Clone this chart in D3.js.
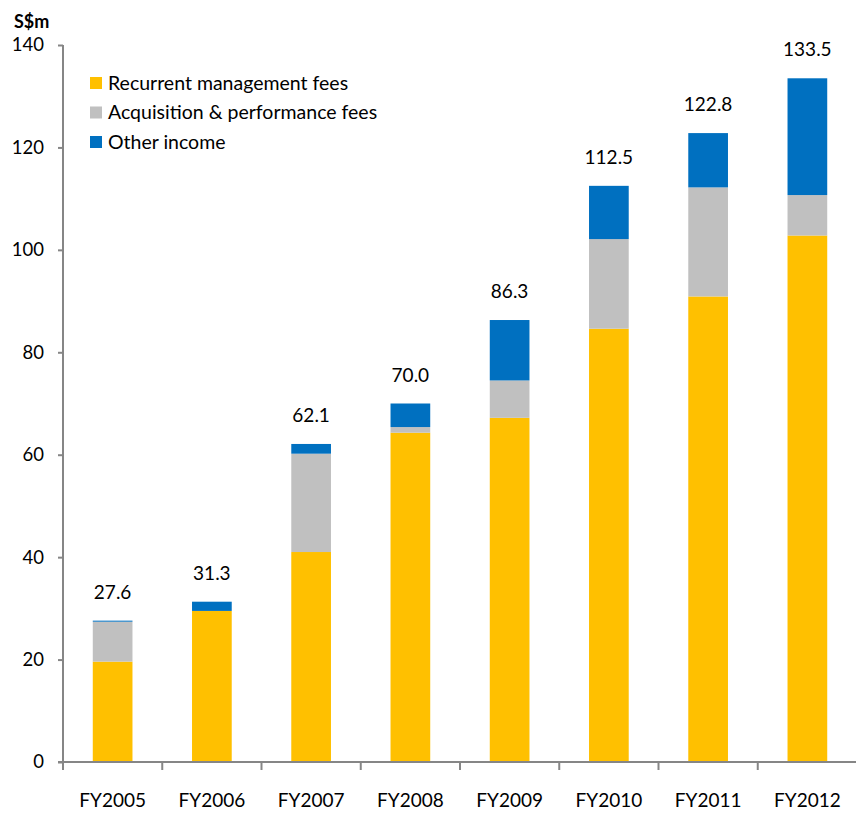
<!DOCTYPE html>
<html>
<head>
<meta charset="utf-8">
<script src="https://cdn.jsdelivr.net/npm/d3@7"></script>
<style>
  body { margin: 0; background: #fff; }
  text { font-family: Lato, "Open Sans", sans-serif; fill: #000; }
</style>
</head>
<body>
<svg id="chart" width="856" height="816"></svg>
<script>
// Data (S$m)
var years = ["FY2005", "FY2006", "FY2007", "FY2008", "FY2009", "FY2010", "FY2011", "FY2012"];
var recurrent = [19.6, 29.5, 41.0, 64.3, 67.2, 84.6, 90.9, 102.8];
var acquisition = [7.8, 0.0, 19.2, 1.1, 7.3, 17.5, 21.3, 7.9];
var other = [0.2, 1.8, 1.9, 4.6, 11.8, 10.4, 10.6, 22.8];
var totals = [27.6, 31.3, 62.1, 70.0, 86.3, 112.5, 122.8, 133.5];
var seriesNames = ["Recurrent management fees", "Acquisition & performance fees", "Other income"];
var seriesKeys = ["recurrent", "acquisition", "other"];
var yTicks = [0, 20, 40, 60, 80, 100, 120, 140];

var colors = { recurrent: "#FFC000", acquisition: "#C0C0C0", other: "#0070C0" };
var axisColor = "#868686";

var svg = d3.select("#chart");

var x0 = 63, x1 = 857, yBottom = 762, yTop = 45;

var x = d3.scaleBand().domain(years).range([x0, x1]).padding(0);
var y = d3.scaleLinear().domain([0, 140]).range([yBottom, yTop]);
var barW = x.bandwidth() * 0.4;

var rows = years.map(function(yr, i) {
  return { year: yr, recurrent: recurrent[i], acquisition: acquisition[i], other: other[i], total: totals[i] };
});
var stacked = d3.stack().keys(seriesKeys)(rows);

// bars
svg.append("g").selectAll("g")
  .data(stacked)
  .join("g")
  .attr("fill", function(s) { return colors[s.key]; })
  .selectAll("rect")
  .data(function(s) { return s; })
  .join("rect")
  .attr("x", function(d) { return x(d.data.year) + (x.bandwidth() - barW) / 2; })
  .attr("width", barW)
  .attr("y", function(d) { return y(d[1]); })
  .attr("height", function(d) { return y(d[0]) - y(d[1]); });

// total labels
svg.append("g").selectAll("text")
  .data(rows)
  .join("text")
  .attr("x", function(d) { return x(d.year) + x.bandwidth() / 2; })
  .attr("y", function(d) { return y(d.total) - 22; })
  .attr("text-anchor", "middle")
  .style("font-size", "19px")
  .text(function(d) { return d.total.toFixed(1); });

// y axis
var yAxis = svg.append("g")
  .attr("transform", "translate(" + x0 + ",0)")
  .call(d3.axisLeft(y).tickValues(yTicks).tickSize(5).tickPadding(14));
yAxis.selectAll("path, line").attr("stroke", axisColor).attr("stroke-width", 2);
yAxis.selectAll("text").style("font-size", "18.5px").style("font-family", "Lato, sans-serif").attr("fill", "#000");
yAxis.select(".domain").attr("d", "M0," + yTop + "V" + yBottom);

// x axis
var xAxis = svg.append("g")
  .attr("transform", "translate(0," + yBottom + ")")
  .call(d3.axisBottom(x).tickSize(0).tickPadding(32));
xAxis.select(".domain").attr("stroke", axisColor).attr("stroke-width", 2)
  .attr("d", "M" + (x0 - 5) + ",0H" + x1);
xAxis.selectAll("text").style("font-size", "19px").style("font-family", "Lato, sans-serif").attr("fill", "#000");
// boundary ticks
xAxis.append("g").selectAll("line")
  .data(years.concat(["end"]))
  .join("line")
  .attr("x1", function(d, i) { return x0 + i * x.step(); })
  .attr("x2", function(d, i) { return x0 + i * x.step(); })
  .attr("y1", 0).attr("y2", 8)
  .attr("stroke", axisColor).attr("stroke-width", 2);

// unit label
svg.append("text")
  .attr("x", 14).attr("y", 28)
  .style("font-size", "18px").style("font-weight", "bold")
  .text("S$m");

// legend
var legend = svg.append("g").selectAll("g")
  .data(seriesKeys)
  .join("g")
  .attr("transform", function(d, i) { return "translate(90," + (77 + i * 29.5) + ")"; });
legend.append("rect")
  .attr("width", 12).attr("height", 12)
  .attr("fill", function(d) { return colors[d]; });
legend.append("text")
  .attr("x", 18).attr("y", 6).attr("dy", "0.35em")
  .style("font-size", "19.5px")
  .text(function(d, i) { return seriesNames[i]; });
</script>
</body>
</html>
